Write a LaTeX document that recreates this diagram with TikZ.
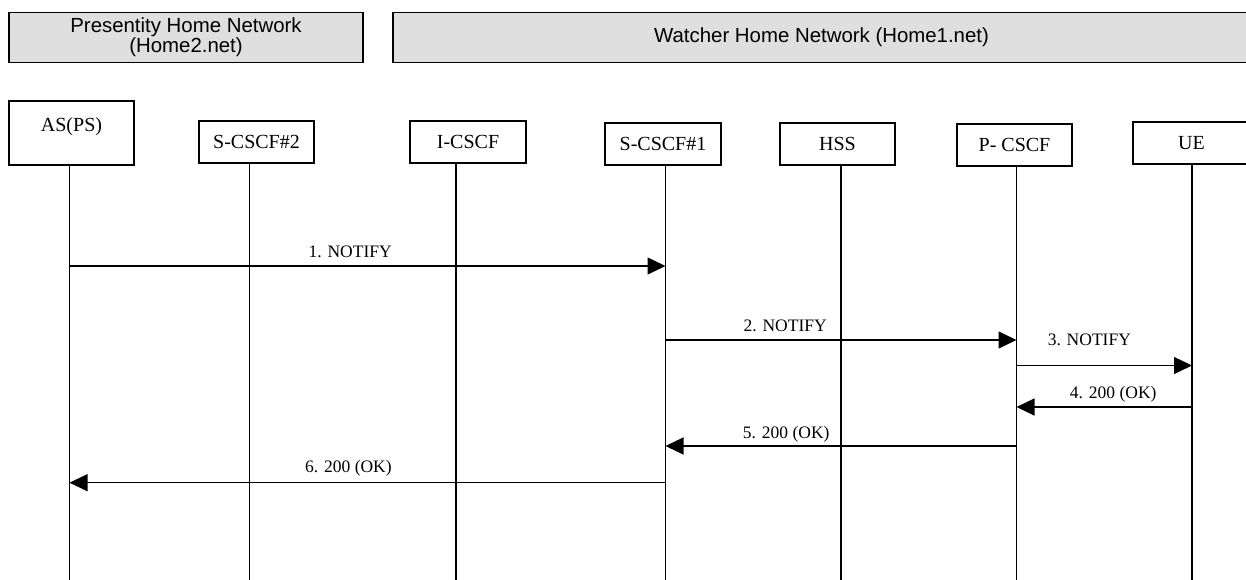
\documentclass[tikz,border=0pt]{standalone}
\usepackage{fontspec}
\setmainfont{Liberation Serif}
\newfontfamily\hdrfont{Liberation Sans}
\usetikzlibrary{arrows.meta}
\begin{document}
\begin{tikzpicture}[x=1pt,y=-1pt,
  netbox/.style={draw=black, line width=1.2pt, fill=gray!25, inner sep=0pt, align=center,
    font=\hdrfont\fontsize{20.4}{18}\selectfont},
  entity/.style={draw=black, line width=1.2pt, fill=white, inner sep=0pt,
    font=\fontsize{20}{22}\selectfont},
  life/.style={line width=1.1pt},
  msg/.style={line width=1.2pt, -{Triangle[length=18pt,width=17pt]}},
  lbl/.style={font=\fontsize{17.5}{20}\selectfont, anchor=base, inner sep=0pt, yshift=9pt}
]
\useasboundingbox (0,0) rectangle (1246,580);
\clip (0,0) rectangle (1246,580);

% network headers
\node[netbox, minimum width=354pt, minimum height=50pt] (pres) at (186,37.5)
  {Presentity Home Network\\(Home2.net)};
\node[netbox, minimum width=857pt, minimum height=50pt] (watch) at (821.5,37.5)
  {Watcher Home Network (Home1.net)};

% entities
\node[entity, minimum width=125pt, minimum height=64pt, text height=4pt, text depth=7pt] (as) at (71.5,133) {AS(PS)};
\node[entity, minimum width=115pt, minimum height=42pt] (s2) at (256.5,142) {S-CSCF\#2};
\node[entity, minimum width=116pt, minimum height=42pt] (ic) at (468,142) {I-CSCF};
\node[entity, minimum width=116pt, minimum height=42pt] (s1) at (663,144) {S-CSCF\#1};
\node[entity, minimum width=115pt, minimum height=42pt] (hss) at (837.5,144) {HSS};
\node[entity, minimum width=115pt, minimum height=42pt] (pc) at (1014.5,145) {P- CSCF};
\node[entity, minimum width=117pt, minimum height=42pt] (ue) at (1191.5,143) {UE};

% lifeline tops
\coordinate (Las) at (as.south -| 69.5,0);
\coordinate (Ls2) at (s2.south -| 249.5,0);
\coordinate (Lic) at (ic.south -| 456,0);
\coordinate (Ls1) at (s1.south -| 665.5,0);
\coordinate (Lhss) at (hss.south -| 841,0);
\coordinate (Lpc) at (pc.south -| 1016.5,0);
\coordinate (Lue) at (ue.south -| 1192,0);
\coordinate (bot) at (0,580);

\foreach \l in {Las,Ls2,Lic,Ls1,Lhss,Lpc,Lue}
  \draw[life] (\l) -- (\l |- bot);

% message rows
\coordinate (m1) at (0,266);
\coordinate (m2) at (0,340);
\coordinate (m3) at (0,365.5);
\coordinate (m4) at (0,407);
\coordinate (m5) at (0,446);
\coordinate (m6) at (0,482.7);

\draw[msg] (Las |- m1) -- node[lbl, pos=0.471] {1. NOTIFY} (Ls1 |- m1);
\draw[msg] (Ls1 |- m2) -- node[lbl, pos=0.341] {2. NOTIFY} (Lpc |- m2);
\draw[msg] (Lpc |- m3) -- node[lbl, pos=0.415, yshift=11pt] {3. NOTIFY} (Lue |- m3);
\draw[msg] (Lue |- m4) -- node[lbl, pos=0.449] {4. 200 (OK)} (Lpc |- m4);
\draw[msg] (Lpc |- m5) -- node[lbl, pos=0.656, yshift=-1pt] {5. 200 (OK)} (Ls1 |- m5);
\draw[msg] (Ls1 |- m6) -- node[lbl, pos=0.532, yshift=1pt] {6. 200 (OK)} (Las |- m6);
\end{tikzpicture}
\end{document}
